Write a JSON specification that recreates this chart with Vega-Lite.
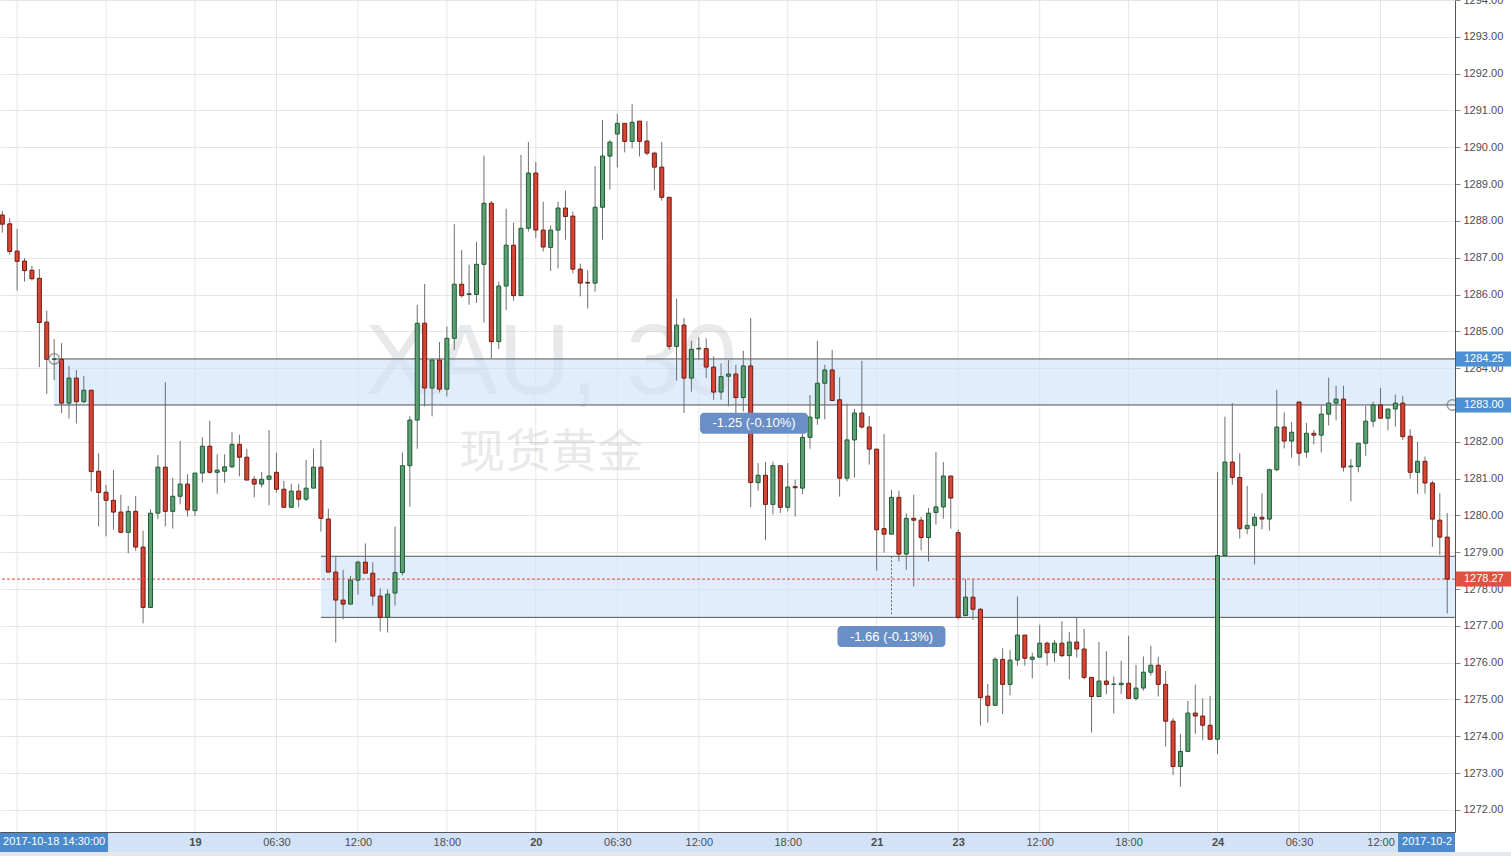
{
"$schema": "https://vega.github.io/schema/vega-lite/v6.json",
"width": 1455, "height": 832,
"autosize": "none",
"padding": {"left": 0, "top": 0, "right": 56, "bottom": 24},
"background": "white",
"config": {"view": {"stroke": null}, "font": "Liberation Sans", "scale": {"continuousPadding": 0}},
"datasets": {
"candles": [
{"i":0,"o":1288.16,"h":1288.27,"l":1287.68,"c":1287.91},
{"i":1,"o":1287.92,"h":1288.07,"l":1287.08,"c":1287.17},
{"i":2,"o":1287.18,"h":1287.78,"l":1286.11,"c":1286.90},
{"i":3,"o":1286.91,"h":1286.99,"l":1286.35,"c":1286.65},
{"i":4,"o":1286.66,"h":1286.78,"l":1286.38,"c":1286.43},
{"i":5,"o":1286.44,"h":1286.69,"l":1284.03,"c":1285.24},
{"i":6,"o":1285.25,"h":1285.56,"l":1283.30,"c":1284.24},
{"i":7,"o":1284.24,"h":1284.79,"l":1283.68,"c":1284.25},
{"i":8,"o":1284.24,"h":1284.68,"l":1282.78,"c":1283.05},
{"i":9,"o":1283.05,"h":1284.06,"l":1282.63,"c":1283.73},
{"i":10,"o":1283.73,"h":1283.95,"l":1282.50,"c":1283.09},
{"i":11,"o":1283.09,"h":1283.79,"l":1283.05,"c":1283.40},
{"i":12,"o":1283.40,"h":1283.40,"l":1280.65,"c":1281.19},
{"i":13,"o":1281.20,"h":1281.69,"l":1279.70,"c":1280.62},
{"i":14,"o":1280.63,"h":1280.83,"l":1279.43,"c":1280.41},
{"i":15,"o":1280.41,"h":1281.24,"l":1279.61,"c":1280.09},
{"i":16,"o":1280.09,"h":1280.56,"l":1279.54,"c":1279.54},
{"i":17,"o":1279.54,"h":1280.26,"l":1278.97,"c":1280.11},
{"i":18,"o":1280.11,"h":1280.53,"l":1279.04,"c":1279.14},
{"i":19,"o":1279.14,"h":1279.58,"l":1277.07,"c":1277.50},
{"i":20,"o":1277.50,"h":1280.17,"l":1277.50,"c":1280.06},
{"i":21,"o":1280.06,"h":1281.64,"l":1279.90,"c":1281.31},
{"i":22,"o":1281.31,"h":1283.62,"l":1279.70,"c":1280.11},
{"i":23,"o":1280.11,"h":1281.02,"l":1279.64,"c":1280.52},
{"i":24,"o":1280.52,"h":1282.02,"l":1280.30,"c":1280.85},
{"i":25,"o":1280.85,"h":1281.12,"l":1279.97,"c":1280.15},
{"i":26,"o":1280.13,"h":1281.15,"l":1279.99,"c":1281.15},
{"i":27,"o":1281.15,"h":1282.12,"l":1280.89,"c":1281.88},
{"i":28,"o":1281.88,"h":1282.57,"l":1281.13,"c":1281.17},
{"i":29,"o":1281.17,"h":1281.66,"l":1280.59,"c":1281.23},
{"i":30,"o":1281.20,"h":1281.66,"l":1280.89,"c":1281.32},
{"i":31,"o":1281.32,"h":1282.26,"l":1281.28,"c":1281.93},
{"i":32,"o":1281.93,"h":1282.19,"l":1281.06,"c":1281.58},
{"i":33,"o":1281.58,"h":1281.81,"l":1280.96,"c":1280.96},
{"i":34,"o":1280.98,"h":1281.07,"l":1280.49,"c":1280.85},
{"i":35,"o":1280.85,"h":1281.18,"l":1280.76,"c":1280.98},
{"i":36,"o":1280.98,"h":1282.32,"l":1280.27,"c":1281.07},
{"i":37,"o":1281.17,"h":1281.70,"l":1280.62,"c":1280.71},
{"i":38,"o":1280.71,"h":1280.94,"l":1280.22,"c":1280.22},
{"i":39,"o":1280.22,"h":1280.86,"l":1280.22,"c":1280.66},
{"i":40,"o":1280.66,"h":1280.86,"l":1280.22,"c":1280.44},
{"i":41,"o":1280.44,"h":1281.51,"l":1280.39,"c":1280.74},
{"i":42,"o":1280.74,"h":1281.81,"l":1280.74,"c":1281.31},
{"i":43,"o":1281.31,"h":1282.05,"l":1279.56,"c":1279.92},
{"i":44,"o":1279.90,"h":1280.18,"l":1278.46,"c":1278.46},
{"i":45,"o":1278.46,"h":1278.88,"l":1276.55,"c":1277.70},
{"i":46,"o":1277.70,"h":1278.52,"l":1277.18,"c":1277.59},
{"i":47,"o":1277.59,"h":1278.36,"l":1277.59,"c":1278.24},
{"i":48,"o":1278.24,"h":1278.77,"l":1277.85,"c":1278.73},
{"i":49,"o":1278.73,"h":1279.24,"l":1278.43,"c":1278.43},
{"i":50,"o":1278.43,"h":1278.73,"l":1277.55,"c":1277.81},
{"i":51,"o":1277.81,"h":1278.02,"l":1276.85,"c":1277.23},
{"i":52,"o":1277.23,"h":1277.99,"l":1276.82,"c":1277.86},
{"i":53,"o":1277.89,"h":1279.70,"l":1277.55,"c":1278.45},
{"i":54,"o":1278.45,"h":1281.71,"l":1278.37,"c":1281.35},
{"i":55,"o":1281.35,"h":1282.70,"l":1280.24,"c":1282.59},
{"i":56,"o":1282.59,"h":1285.72,"l":1281.81,"c":1285.22},
{"i":57,"o":1285.22,"h":1286.29,"l":1282.96,"c":1283.46},
{"i":58,"o":1283.46,"h":1284.22,"l":1282.69,"c":1284.22},
{"i":59,"o":1284.22,"h":1284.71,"l":1283.34,"c":1283.43},
{"i":60,"o":1283.43,"h":1285.13,"l":1283.23,"c":1284.81},
{"i":61,"o":1284.81,"h":1287.91,"l":1284.50,"c":1286.28},
{"i":62,"o":1286.28,"h":1287.21,"l":1285.92,"c":1285.97},
{"i":63,"o":1286.00,"h":1286.81,"l":1285.72,"c":1286.02},
{"i":64,"o":1286.00,"h":1287.43,"l":1285.77,"c":1286.82},
{"i":65,"o":1286.82,"h":1289.77,"l":1285.24,"c":1288.48},
{"i":66,"o":1288.48,"h":1288.54,"l":1284.27,"c":1284.72},
{"i":67,"o":1284.72,"h":1286.35,"l":1284.52,"c":1286.23},
{"i":68,"o":1286.23,"h":1288.33,"l":1285.58,"c":1287.34},
{"i":69,"o":1287.34,"h":1287.95,"l":1285.83,"c":1285.97},
{"i":70,"o":1285.97,"h":1289.79,"l":1285.97,"c":1287.80},
{"i":71,"o":1287.80,"h":1290.14,"l":1287.71,"c":1289.30},
{"i":72,"o":1289.30,"h":1289.60,"l":1287.53,"c":1287.75},
{"i":73,"o":1287.75,"h":1288.52,"l":1287.17,"c":1287.29},
{"i":74,"o":1287.28,"h":1287.87,"l":1286.64,"c":1287.75},
{"i":75,"o":1287.75,"h":1288.52,"l":1286.71,"c":1288.35},
{"i":76,"o":1288.35,"h":1288.82,"l":1287.49,"c":1288.12},
{"i":77,"o":1288.13,"h":1288.25,"l":1286.57,"c":1286.69},
{"i":78,"o":1286.69,"h":1286.84,"l":1285.95,"c":1286.31},
{"i":79,"o":1286.33,"h":1286.66,"l":1285.62,"c":1286.31},
{"i":80,"o":1286.31,"h":1289.49,"l":1286.08,"c":1288.37},
{"i":81,"o":1288.37,"h":1290.74,"l":1287.49,"c":1289.76},
{"i":82,"o":1289.76,"h":1290.20,"l":1288.85,"c":1290.14},
{"i":83,"o":1290.36,"h":1290.91,"l":1289.45,"c":1290.65},
{"i":84,"o":1290.65,"h":1290.65,"l":1289.86,"c":1290.16},
{"i":85,"o":1290.16,"h":1291.18,"l":1289.97,"c":1290.68},
{"i":86,"o":1290.71,"h":1290.71,"l":1289.75,"c":1290.16},
{"i":87,"o":1290.17,"h":1290.71,"l":1289.78,"c":1289.84},
{"i":88,"o":1289.84,"h":1289.88,"l":1288.83,"c":1289.46},
{"i":89,"o":1289.46,"h":1290.14,"l":1288.55,"c":1288.64},
{"i":90,"o":1288.64,"h":1288.64,"l":1284.50,"c":1284.59},
{"i":91,"o":1284.59,"h":1285.88,"l":1283.66,"c":1285.17},
{"i":92,"o":1285.17,"h":1285.36,"l":1282.78,"c":1283.73},
{"i":93,"o":1283.73,"h":1284.74,"l":1283.36,"c":1284.51},
{"i":94,"o":1284.52,"h":1284.84,"l":1284.23,"c":1284.54},
{"i":95,"o":1284.53,"h":1284.81,"l":1283.73,"c":1284.03},
{"i":96,"o":1284.03,"h":1284.32,"l":1283.14,"c":1283.35},
{"i":97,"o":1283.35,"h":1284.13,"l":1283.14,"c":1283.77},
{"i":98,"o":1283.78,"h":1284.22,"l":1282.96,"c":1283.84},
{"i":99,"o":1283.84,"h":1284.09,"l":1282.32,"c":1283.20},
{"i":100,"o":1283.20,"h":1284.47,"l":1282.82,"c":1284.06},
{"i":101,"o":1284.06,"h":1285.36,"l":1280.22,"c":1280.89},
{"i":102,"o":1280.89,"h":1281.42,"l":1280.67,"c":1281.09},
{"i":103,"o":1281.09,"h":1281.45,"l":1279.33,"c":1280.30},
{"i":104,"o":1280.30,"h":1281.46,"l":1280.03,"c":1281.35},
{"i":105,"o":1281.35,"h":1281.35,"l":1280.06,"c":1280.22},
{"i":106,"o":1280.22,"h":1281.42,"l":1280.11,"c":1280.77},
{"i":107,"o":1280.78,"h":1280.97,"l":1279.97,"c":1280.75},
{"i":108,"o":1280.74,"h":1282.23,"l":1280.58,"c":1282.12},
{"i":109,"o":1282.12,"h":1283.27,"l":1281.81,"c":1282.67},
{"i":110,"o":1282.64,"h":1284.74,"l":1282.46,"c":1283.59},
{"i":111,"o":1283.59,"h":1284.09,"l":1282.61,"c":1283.95},
{"i":112,"o":1283.95,"h":1284.50,"l":1283.12,"c":1283.12},
{"i":113,"o":1283.14,"h":1283.75,"l":1280.51,"c":1281.01},
{"i":114,"o":1281.01,"h":1283.03,"l":1280.92,"c":1282.05},
{"i":115,"o":1282.05,"h":1282.89,"l":1281.03,"c":1282.78},
{"i":116,"o":1282.78,"h":1284.20,"l":1282.36,"c":1282.40},
{"i":117,"o":1282.40,"h":1282.70,"l":1281.38,"c":1281.80},
{"i":118,"o":1281.80,"h":1281.80,"l":1278.50,"c":1279.61},
{"i":119,"o":1279.64,"h":1282.21,"l":1278.99,"c":1279.49},
{"i":120,"o":1279.49,"h":1280.69,"l":1279.49,"c":1280.49},
{"i":121,"o":1280.49,"h":1280.67,"l":1278.75,"c":1278.95},
{"i":122,"o":1278.95,"h":1280.06,"l":1278.52,"c":1279.92},
{"i":123,"o":1279.92,"h":1280.56,"l":1278.07,"c":1279.87},
{"i":124,"o":1279.87,"h":1279.96,"l":1279.05,"c":1279.40},
{"i":125,"o":1279.40,"h":1280.20,"l":1278.75,"c":1280.06},
{"i":126,"o":1280.08,"h":1281.72,"l":1279.75,"c":1280.23},
{"i":127,"o":1280.23,"h":1281.45,"l":1279.91,"c":1281.07},
{"i":128,"o":1281.07,"h":1281.07,"l":1279.64,"c":1280.47},
{"i":129,"o":1279.53,"h":1279.61,"l":1277.18,"c":1277.23},
{"i":130,"o":1277.28,"h":1278.27,"l":1277.28,"c":1277.78},
{"i":131,"o":1277.78,"h":1278.25,"l":1277.16,"c":1277.45},
{"i":132,"o":1277.45,"h":1277.48,"l":1274.29,"c":1275.05},
{"i":133,"o":1275.09,"h":1275.42,"l":1274.37,"c":1274.84},
{"i":134,"o":1274.84,"h":1276.15,"l":1274.84,"c":1276.09},
{"i":135,"o":1276.09,"h":1276.39,"l":1274.60,"c":1275.41},
{"i":136,"o":1275.41,"h":1276.34,"l":1275.11,"c":1276.07},
{"i":137,"o":1276.07,"h":1277.80,"l":1275.91,"c":1276.75},
{"i":138,"o":1276.75,"h":1276.75,"l":1275.92,"c":1276.12},
{"i":139,"o":1276.09,"h":1276.27,"l":1275.57,"c":1276.15},
{"i":140,"o":1276.15,"h":1277.03,"l":1276.15,"c":1276.53},
{"i":141,"o":1276.53,"h":1276.57,"l":1275.92,"c":1276.27},
{"i":142,"o":1276.27,"h":1276.62,"l":1276.01,"c":1276.53},
{"i":143,"o":1276.53,"h":1277.13,"l":1276.15,"c":1276.19},
{"i":144,"o":1276.19,"h":1276.83,"l":1275.55,"c":1276.56},
{"i":145,"o":1276.56,"h":1277.23,"l":1276.14,"c":1276.37},
{"i":146,"o":1276.37,"h":1276.92,"l":1275.55,"c":1275.60},
{"i":147,"o":1275.60,"h":1275.60,"l":1274.10,"c":1275.08},
{"i":148,"o":1275.08,"h":1276.56,"l":1275.08,"c":1275.50},
{"i":149,"o":1275.50,"h":1276.31,"l":1275.15,"c":1275.41},
{"i":150,"o":1275.41,"h":1275.62,"l":1274.62,"c":1275.42},
{"i":151,"o":1275.40,"h":1276.05,"l":1275.15,"c":1275.44},
{"i":152,"o":1275.44,"h":1276.73,"l":1275.03,"c":1275.03},
{"i":153,"o":1275.03,"h":1275.94,"l":1274.97,"c":1275.31},
{"i":154,"o":1275.31,"h":1276.17,"l":1275.24,"c":1275.74},
{"i":155,"o":1275.74,"h":1276.46,"l":1275.65,"c":1275.93},
{"i":156,"o":1275.93,"h":1276.16,"l":1275.08,"c":1275.41},
{"i":157,"o":1275.41,"h":1275.77,"l":1273.72,"c":1274.41},
{"i":158,"o":1274.41,"h":1274.50,"l":1272.95,"c":1273.18},
{"i":159,"o":1273.18,"h":1274.07,"l":1272.63,"c":1273.59},
{"i":160,"o":1273.59,"h":1274.96,"l":1273.59,"c":1274.63},
{"i":161,"o":1274.63,"h":1275.40,"l":1274.07,"c":1274.55},
{"i":162,"o":1274.55,"h":1275.03,"l":1273.90,"c":1274.30},
{"i":163,"o":1274.30,"h":1275.10,"l":1273.92,"c":1273.92},
{"i":164,"o":1273.92,"h":1281.18,"l":1273.52,"c":1278.91},
{"i":165,"o":1278.91,"h":1282.68,"l":1278.91,"c":1281.45},
{"i":166,"o":1281.45,"h":1283.05,"l":1280.83,"c":1281.03},
{"i":167,"o":1281.03,"h":1281.69,"l":1279.37,"c":1279.64},
{"i":168,"o":1279.64,"h":1280.80,"l":1279.49,"c":1279.73},
{"i":169,"o":1279.73,"h":1280.06,"l":1278.67,"c":1279.95},
{"i":170,"o":1279.95,"h":1280.60,"l":1279.62,"c":1279.90},
{"i":171,"o":1279.90,"h":1281.27,"l":1279.59,"c":1281.24},
{"i":172,"o":1281.24,"h":1283.41,"l":1281.20,"c":1282.40},
{"i":173,"o":1282.40,"h":1282.80,"l":1281.82,"c":1282.02},
{"i":174,"o":1282.02,"h":1282.54,"l":1281.57,"c":1282.26},
{"i":175,"o":1283.08,"h":1283.08,"l":1281.35,"c":1281.69},
{"i":176,"o":1281.72,"h":1282.51,"l":1281.57,"c":1282.23},
{"i":177,"o":1282.23,"h":1282.32,"l":1281.93,"c":1282.18},
{"i":178,"o":1282.18,"h":1282.98,"l":1281.71,"c":1282.75},
{"i":179,"o":1282.75,"h":1283.74,"l":1282.44,"c":1283.05},
{"i":180,"o":1283.05,"h":1283.52,"l":1282.58,"c":1283.16},
{"i":181,"o":1283.16,"h":1283.52,"l":1281.19,"c":1281.31},
{"i":182,"o":1281.32,"h":1281.53,"l":1280.38,"c":1281.34},
{"i":183,"o":1281.33,"h":1281.96,"l":1281.17,"c":1281.96},
{"i":184,"o":1281.96,"h":1282.98,"l":1281.62,"c":1282.56},
{"i":185,"o":1282.56,"h":1283.09,"l":1282.40,"c":1283.00},
{"i":186,"o":1283.00,"h":1283.46,"l":1282.64,"c":1282.64},
{"i":187,"o":1282.64,"h":1282.89,"l":1282.31,"c":1282.89},
{"i":188,"o":1282.89,"h":1283.28,"l":1282.41,"c":1283.05},
{"i":189,"o":1283.05,"h":1283.25,"l":1282.05,"c":1282.14},
{"i":190,"o":1282.15,"h":1282.34,"l":1281.00,"c":1281.17},
{"i":191,"o":1281.17,"h":1282.00,"l":1280.59,"c":1281.47},
{"i":192,"o":1281.47,"h":1281.60,"l":1280.59,"c":1280.88},
{"i":193,"o":1280.88,"h":1280.94,"l":1279.15,"c":1279.90},
{"i":194,"o":1279.87,"h":1280.60,"l":1278.93,"c":1279.41},
{"i":195,"o":1279.41,"h":1280.06,"l":1277.34,"c":1278.27}
],
"vgrid": [{"k": 2}, {"k": 14}, {"k": 26}, {"k": 37}, {"k": 48}, {"k": 60}, {"k": 72}, {"k": 83}, {"k": 94}, {"k": 106}, {"k": 118}, {"k": 129}, {"k": 140}, {"k": 152}, {"k": 164}, {"k": 175}, {"k": 186}],
"hgrid": [{"p": 1283}],
"bands": [{"s": 7, "top": 1284.25, "bot": 1283.00}, {"s": 43, "top": 1278.89, "bot": 1277.23}],
"measures": [{"k": 101, "top": 1284.25, "bot": 1283.05}, {"k": 120, "top": 1278.89, "bot": 1277.32}],
"notes": [{"k": 101.45, "p": 1282.50, "t": "-1.25 (-0.10%)"}, {"k": 120.0, "p": 1276.71, "t": "-1.66 (-0.13%)"}],
"anchors": [{"k": 7, "p": 1284.25}, {"k": 195.7, "p": 1283.0}],
"badges": [{"p": 1284.25, "t": "1284.25", "kind": "drawing"}, {"p": 1283.00, "t": "1283.00", "kind": "drawing"}, {"p": 1278.27, "t": "1278.27", "kind": "last"}]
},
"layer": [
{"data": {"values": [{}]}, "mark": {"type": "text", "text": "XAU, 30", "fontSize": 100, "font": "Liberation Sans", "align": "center", "baseline": "alphabetic", "color": "#8f959c", "opacity": 0.2},
 "encoding": {"x": {"datum": 74.05, "type": "quantitative", "title": null, "scale": {"domain": [-0.31, 196.05], "nice": false, "zero": false, "padding": 0},
        "axis": {"orient": "bottom", "title": null, "zindex": 1, "tickCount": 40,
                 "values": [26, 37, 48, 60, 72, 83, 94, 106, 118, 129, 140, 152, 164, 175, 186],
                 "labelExpr": "datum.value==26?'19':datum.value==72?'20':datum.value==118?'21':datum.value==129?'23':datum.value==164?'24':(datum.value==37||datum.value==83||datum.value==175)?'06:30':(datum.value==2||datum.value==48||datum.value==94||datum.value==140||datum.value==186)?'12:00':'18:00'",
                 "labelFontWeight": {"condition": {"test": "datum.value==26||datum.value==72||datum.value==118||datum.value==129||datum.value==164", "value": "bold"}, "value": "normal"},
                 "grid": false,
                 "domain": true, "domainColor": "#555555", "domainWidth": 1,
                 "ticks": false, "tickSize": 0, "labelPadding": 10, "labelBaseline": "middle",
                 "labelFontSize": 11, "labelColor": "#4d4d4d", "labelFont": "Liberation Sans",
                 "labelFlush": false, "labelOverlap": false, "labelBound": false}},
  "y": {"datum": 1283.30, "type": "quantitative", "title": null, "scale": {"domain": [1271.40, 1294.0], "nice": false, "zero": false, "padding": 0},
        "axis": {"orient": "right", "title": null, "zindex": 0, "tickCount": 40,
                 "values": [1272, 1273, 1274, 1275, 1276, 1277, 1278, 1279, 1280, 1281, 1282, 1284, 1285, 1286, 1287, 1288, 1289, 1290, 1291, 1292, 1293, 1294],
                 "format": ".2f", "grid": true, "gridColor": "#e6e6e6", "gridWidth": 1,
                 "domain": true, "domainColor": "#555555", "domainWidth": 1,
                 "ticks": true, "tickSize": 5, "tickColor": "#8a8a8a", "labelPadding": 3,
                 "labelFontSize": 11, "labelColor": "#4d4d4d", "labelFont": "Liberation Sans",
                 "labelFlush": false, "labelOverlap": false, "labelBound": false}}}},
{"data": {"name": "vgrid"}, "mark": {"type": "rule", "color": "#e6e6e6", "strokeWidth": 1},
 "encoding": {"x": {"field": "k", "type": "quantitative", "title": null}}},
{"data": {"name": "hgrid"}, "mark": {"type": "rule", "color": "#e6e6e6", "strokeWidth": 1},
 "encoding": {"y": {"field": "p", "type": "quantitative", "title": null}}},
{"data": {"values": [{}]}, "mark": {"type": "text", "text": "现货黄金", "fontSize": 46, "font": "Noto Sans CJK SC", "align": "center", "baseline": "middle", "color": "#8f959c", "opacity": 0.2},
 "encoding": {"x": {"datum": 74.05, "type": "quantitative", "title": null},
              "y": {"datum": 1281.70, "type": "quantitative", "title": null}}},
{"data": {"name": "bands"}, "mark": {"type": "rect", "fill": "#cfe3fb", "opacity": 0.65},
 "encoding": {"x": {"field": "s", "type": "quantitative", "title": null},
              "x2": {"datum": 196.05},
              "y": {"field": "top", "type": "quantitative", "title": null},
              "y2": {"field": "bot"}}},
{"data": {"name": "bands"}, "mark": {"type": "rule", "color": "#555555", "strokeWidth": 1},
 "encoding": {"x": {"field": "s", "type": "quantitative", "title": null},
              "x2": {"datum": 196.05},
              "y": {"field": "top", "type": "quantitative", "title": null}}},
{"data": {"name": "bands"}, "mark": {"type": "rule", "color": "#555555", "strokeWidth": 1},
 "encoding": {"x": {"field": "s", "type": "quantitative", "title": null},
              "x2": {"datum": 196.05},
              "y": {"field": "bot", "type": "quantitative", "title": null}}},
{"data": {"values": [{}]}, "mark": {"type": "rule", "color": "#e5472f", "strokeWidth": 1, "strokeDash": [3, 2]},
 "encoding": {"y": {"datum": 1278.27, "type": "quantitative", "title": null}}},
{"data": {"name": "measures"}, "mark": {"type": "rule", "color": "#666666", "strokeWidth": 1, "strokeDash": [2, 2]},
 "encoding": {"x": {"field": "k", "type": "quantitative", "title": null},
              "y": {"field": "top", "type": "quantitative", "title": null},
              "y2": {"field": "bot"}}},
{"data": {"name": "candles"}, "mark": {"type": "rule", "color": "#6e6e6e", "strokeWidth": 1},
 "encoding": {"x": {"field": "i", "type": "quantitative", "title": null},
              "y": {"field": "l", "type": "quantitative", "title": null},
              "y2": {"field": "h"}}},
{"data": {"name": "candles"}, "mark": {"type": "bar", "orient": "vertical", "size": 4, "strokeWidth": 1},
 "encoding": {"x": {"field": "i", "type": "quantitative", "title": null},
              "y": {"field": "o", "type": "quantitative", "title": null},
              "y2": {"field": "c"},
              "fill": {"condition": {"test": "datum.c >= datum.o", "value": "#5e9f74"}, "value": "#d94535"},
              "stroke": {"condition": {"test": "datum.c >= datum.o", "value": "#1d5a32"}, "value": "#6e1a12"}}},
{"data": {"name": "anchors"}, "mark": {"type": "point", "shape": "circle", "size": 110, "filled": false, "stroke": "#777777", "strokeWidth": 1.5, "clip": true},
 "encoding": {"x": {"field": "k", "type": "quantitative", "title": null},
              "y": {"field": "p", "type": "quantitative", "title": null}}},
{"data": {"name": "notes"}, "mark": {"type": "rect", "width": 108, "height": 21, "cornerRadius": 4, "fill": "#6a8fc6"},
 "encoding": {"x": {"field": "k", "type": "quantitative", "title": null},
              "y": {"field": "p", "type": "quantitative", "title": null}}},
{"data": {"name": "notes"}, "mark": {"type": "text", "fontSize": 13, "font": "Liberation Sans", "color": "white", "align": "center", "baseline": "middle"},
 "encoding": {"x": {"field": "k", "type": "quantitative", "title": null},
              "y": {"field": "p", "type": "quantitative", "title": null},
              "text": {"field": "t"}}},
{"data": {"name": "badges"}, "mark": {"type": "bar", "orient": "horizontal", "size": 15},
 "encoding": {"x": {"datum": 196.19, "type": "quantitative", "title": null},
              "x2": {"datum": 203.61},
              "y": {"field": "p", "type": "quantitative", "title": null},
              "fill": {"condition": {"test": "datum.kind == 'last'", "value": "#df5140"}, "value": "#4c8fd2"}}},
{"data": {"name": "badges"}, "mark": {"type": "text", "fontSize": 11, "font": "Liberation Sans", "color": "white", "align": "left", "baseline": "middle"},
 "encoding": {"x": {"datum": 197.26, "type": "quantitative", "title": null},
              "y": {"field": "p", "type": "quantitative", "title": null},
              "text": {"field": "t"}}},
{"data": {"values": [{}]}, "mark": {"type": "rect", "fill": "#d3e2f6"},
 "encoding": {"x": {"datum": -0.31, "type": "quantitative", "title": null},
              "x2": {"datum": 196.05},
              "y": {"datum": 1271.40, "type": "quantitative", "title": null},
              "y2": {"datum": 1270.857}}},
{"data": {"values": [{}]}, "mark": {"type": "rect", "fill": "#e4e7eb"},
 "encoding": {"x": {"datum": -0.31, "type": "quantitative", "title": null},
              "x2": {"datum": 203.61},
              "y": {"datum": 1270.857, "type": "quantitative", "title": null},
              "y2": {"datum": 1270.60}}},
{"data": {"values": [{}]}, "mark": {"type": "rect", "fill": "#4b8bcd"},
 "encoding": {"x": {"datum": -0.31, "type": "quantitative", "title": null},
              "x2": {"datum": 14.27},
              "y": {"datum": 1271.40, "type": "quantitative", "title": null},
              "y2": {"datum": 1270.857}}},
{"data": {"values": [{}]}, "mark": {"type": "rect", "fill": "#4b8bcd"},
 "encoding": {"x": {"datum": 188.36, "type": "quantitative", "title": null},
              "x2": {"datum": 196.05},
              "y": {"datum": 1271.40, "type": "quantitative", "title": null},
              "y2": {"datum": 1270.857}}},
{"data": {"values": [{}]}, "mark": {"type": "text", "text": "2017-10-18 14:30:00", "fontSize": 11, "font": "Liberation Sans", "color": "white", "align": "center", "baseline": "middle"},
 "encoding": {"x": {"datum": 7, "type": "quantitative", "title": null},
              "y": {"datum": 1271.128, "type": "quantitative", "title": null}}},
{"data": {"values": [{}]}, "mark": {"type": "text", "text": "2017-10-24 16:30:00", "fontSize": 11, "font": "Liberation Sans", "color": "white", "align": "left", "baseline": "middle", "limit": 53, "ellipsis": "\u200b"},
 "encoding": {"x": {"datum": 188.9, "type": "quantitative", "title": null},
              "y": {"datum": 1271.128, "type": "quantitative", "title": null}}}
]
}
